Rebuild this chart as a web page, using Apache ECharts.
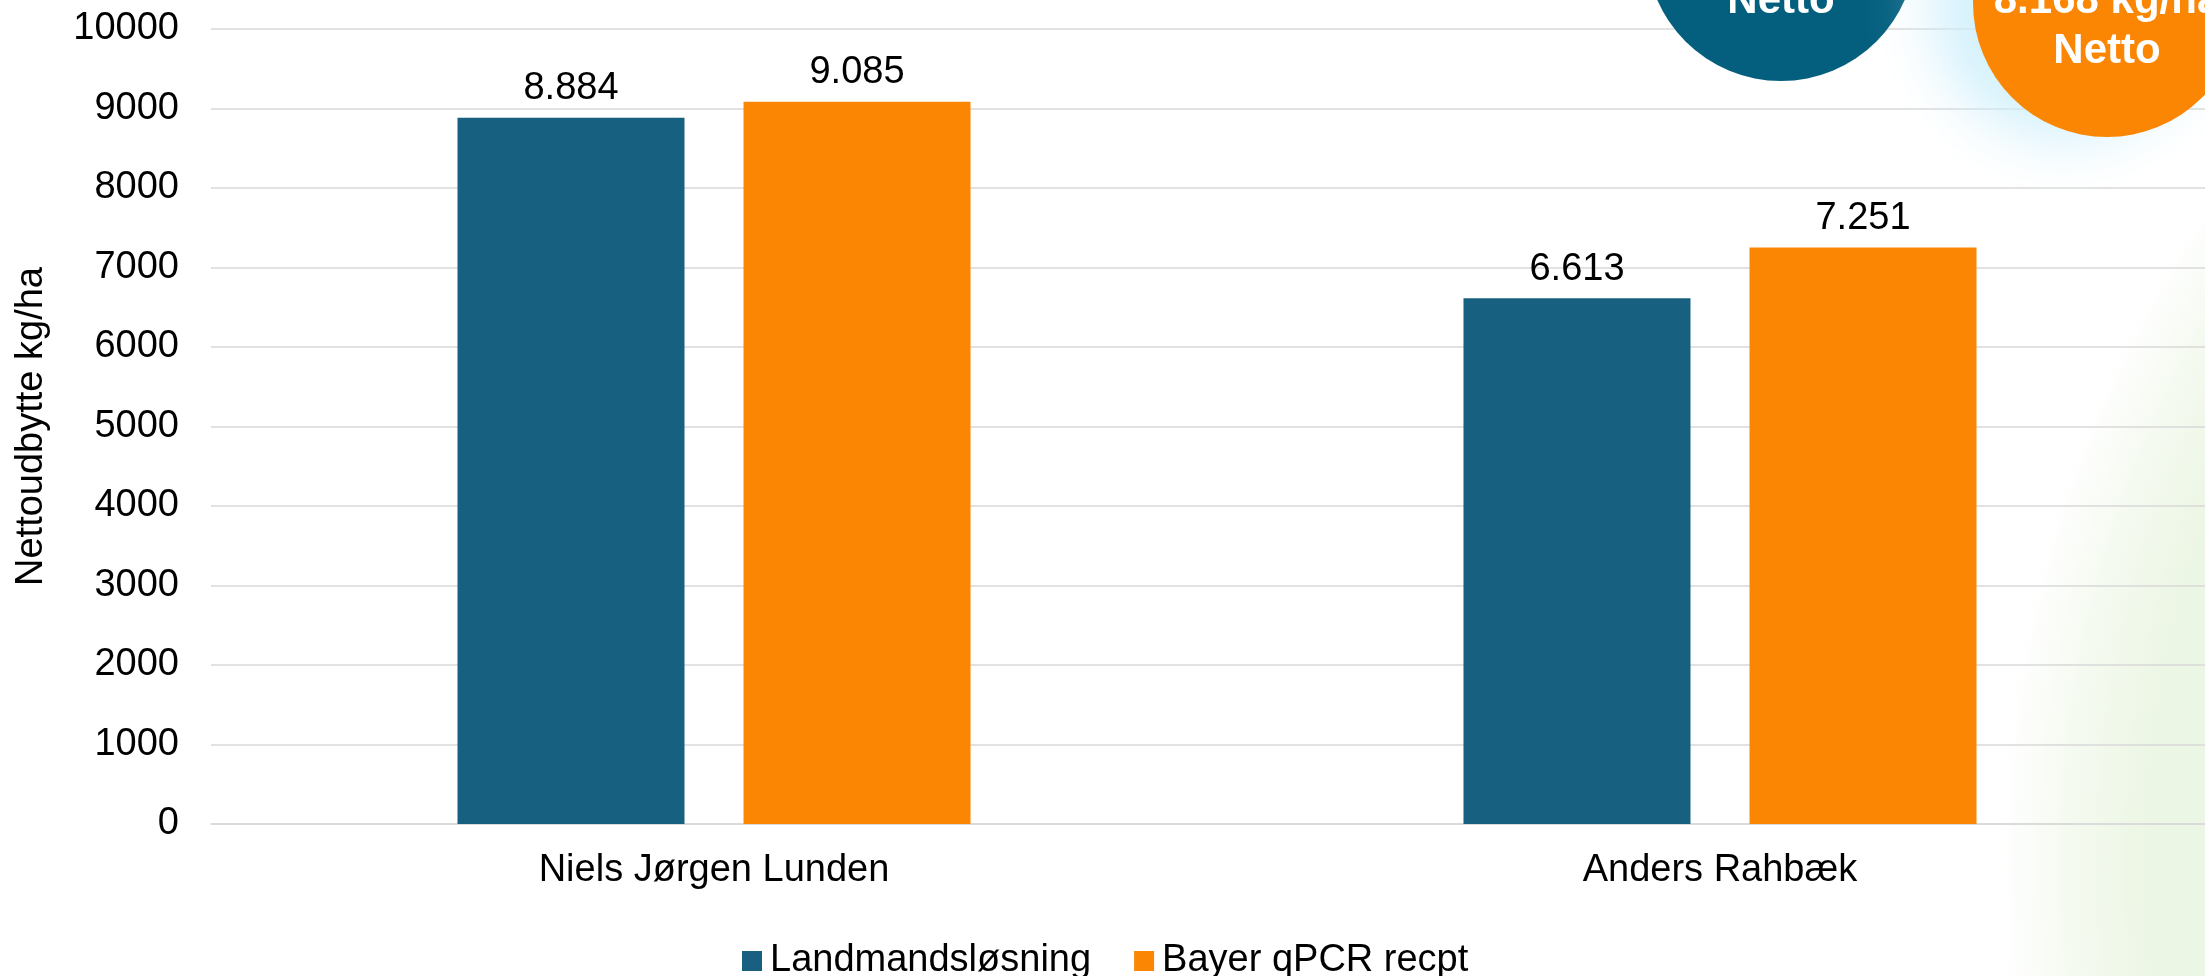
<!DOCTYPE html>
<html>
<head>
<meta charset="utf-8">
<script src="https://cdn.jsdelivr.net/npm/echarts@6/dist/echarts.min.js"></script>
<style>
html,body{margin:0;padding:0;background:#fff;}
#chart{width:2205px;height:976px;}
</style>
</head>
<body>
<div id="chart"></div>
<script>
const categories = ['Niels Jørgen Lunden', 'Anders Rahbæk'];
const seriesNames = ['Landmandsløsning', 'Bayer qPCR recpt'];
const landmandValues = [8884, 6613];
const bayerValues = [9085, 7251];
const yMin = 0, yMax = 10000, yInterval = 1000;
const yAxisTitle = 'Nettoudbytte kg/ha';

const FONT = '"Liberation Sans", Arial, sans-serif';
const FS = 38;
const BLUE = '#17607f';
const ORANGE = '#fb8604';
const CIRCLE_BLUE = '#045f7e';

function dk(v) { return String(Math.round(v)).replace(/\B(?=(\d{3})+(?!\d))/g, '.'); }
function avg(a) { return a.reduce((s, x) => s + x, 0) / a.length; }

const chart = echarts.init(document.getElementById('chart'));
chart.setOption({
  animation: false,
  backgroundColor: '#fff',
  textStyle: { fontFamily: FONT },
  grid: { left: 211, width: 2012, top: 29, bottom: 152, containLabel: false, outerBoundsMode: 'none' },
  legend: {
    left: 737, top: 937,
    icon: 'rect', itemWidth: 20, itemHeight: 20, itemGap: 43,
    textStyle: { fontSize: FS, color: '#000', fontFamily: FONT, padding: [0, 0, 0, 3] },
    data: seriesNames
  },
  xAxis: {
    type: 'category',
    data: categories,
    axisLine: { lineStyle: { color: '#d9d9d9', width: 1.5 } },
    axisTick: { show: false },
    axisLabel: { fontSize: FS, color: '#000', margin: 28, fontFamily: FONT }
  },
  yAxis: {
    type: 'value',
    min: yMin, max: yMax, interval: yInterval,
    name: yAxisTitle,
    nameLocation: 'middle',
    nameGap: 160,
    nameTextStyle: { fontSize: FS, color: '#000', fontFamily: FONT },
    axisLine: { show: false },
    axisTick: { show: false },
    axisLabel: { fontSize: FS, color: '#000', margin: 32, fontFamily: FONT, formatter: v => String(v) },
    splitLine: { lineStyle: { color: '#d9d9d9', width: 1.5 } }
  },
  series: [
    {
      name: seriesNames[0], type: 'bar', data: landmandValues,
      barWidth: 227, barGap: '26%',
      itemStyle: { color: BLUE },
      label: { show: true, position: 'top', distance: 10, fontSize: FS, color: '#000', fontFamily: FONT, formatter: p => dk(p.value) }
    },
    {
      name: seriesNames[1], type: 'bar', data: bayerValues,
      barWidth: 227, barGap: '26%',
      itemStyle: { color: ORANGE },
      label: { show: true, position: 'top', distance: 10, fontSize: FS, color: '#000', fontFamily: FONT, formatter: p => dk(p.value) }
    }
  ],
  graphic: [
    {
      type: 'circle', z: -10, silent: true,
      shape: { cx: 3150, cy: 860, r: 1150 },
      style: {
        fill: {
          type: 'radial', global: true, x: 3150, y: 860, r: 1150,
          colorStops: [
            { offset: 0, color: 'rgba(236,246,228,1)' },
            { offset: 0.87, color: 'rgba(236,246,228,1)' },
            { offset: 0.94, color: 'rgba(236,246,228,0.55)' },
            { offset: 1, color: 'rgba(236,246,228,0)' }
          ]
        }
      }
    },
    {
      type: 'circle', z: 100, silent: true,
      shape: { cx: 1781, cy: -54, r: 135 },
      style: { fill: CIRCLE_BLUE }
    },
    {
      type: 'text', z: 101, silent: true,
      style: { x: 1781, y: -49, text: dk(avg(landmandValues)) + ' kg/ha', fill: '#fff', font: 'bold 42px ' + FONT, textAlign: 'center', textVerticalAlign: 'middle' }
    },
    {
      type: 'text', z: 101, silent: true,
      style: { x: 1781, y: 1, text: 'Netto', fill: '#fff', font: 'bold 42px ' + FONT, textAlign: 'center', textVerticalAlign: 'middle' }
    },
    {
      type: 'circle', z: 100, silent: true,
      shape: { cx: 2107, cy: 3, r: 134 },
      style: { fill: ORANGE, shadowColor: 'rgba(205,238,252,0.85)', shadowBlur: 55, shadowOffsetX: -42, shadowOffsetY: 4 }
    },
    {
      type: 'text', z: 101, silent: true,
      style: { x: 2107, y: 1, text: dk(avg(bayerValues)) + ' kg/ha', fill: '#fff', font: 'bold 42px ' + FONT, textAlign: 'center', textVerticalAlign: 'middle' }
    },
    {
      type: 'text', z: 101, silent: true,
      style: { x: 2107, y: 51, text: 'Netto', fill: '#fff', font: 'bold 42px ' + FONT, textAlign: 'center', textVerticalAlign: 'middle' }
    }
  ]
});
</script>
</body>
</html>
